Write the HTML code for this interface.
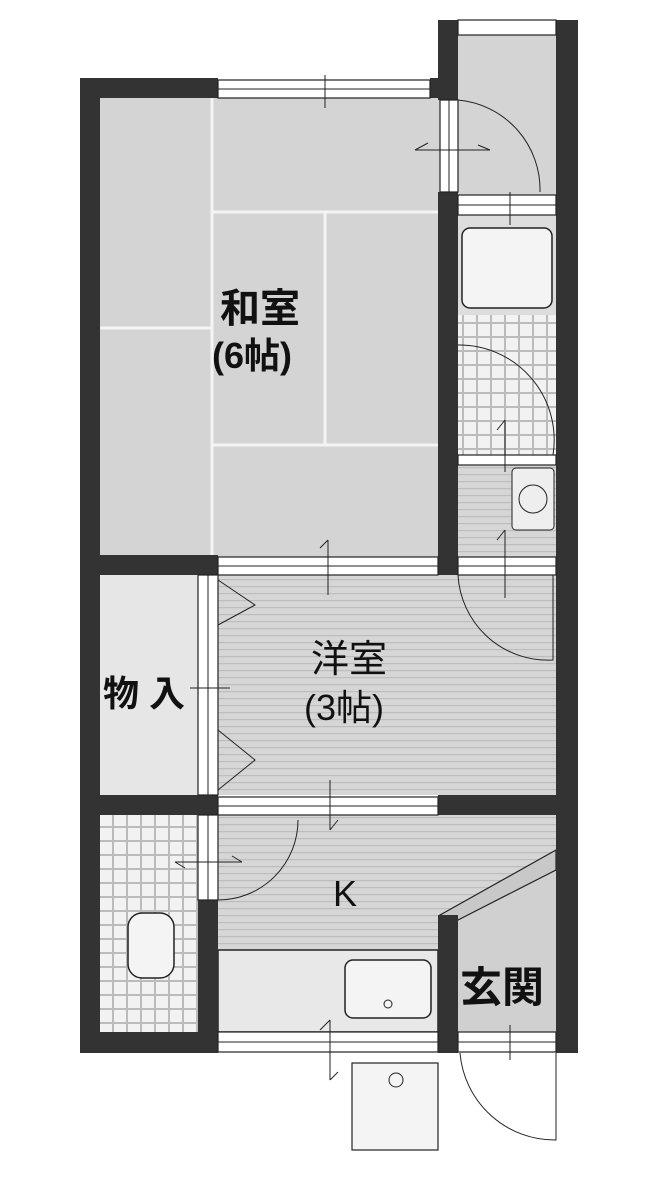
<!DOCTYPE html>
<html><head><meta charset="utf-8"><style>
html,body{margin:0;padding:0;background:#fff;width:650px;height:1200px;overflow:hidden}
svg{display:block}
text{font-family:"Liberation Sans","Noto Sans CJK JP",sans-serif;fill:#111}
</style></head><body>
<svg width="650" height="1200" viewBox="0 0 650 1200" xmlns="http://www.w3.org/2000/svg">
<defs>
<pattern id="st" width="8" height="7" patternUnits="userSpaceOnUse">
<rect width="8" height="7" fill="#d6d6d6"/><rect y="5" width="8" height="1.2" fill="#bdbdbd"/></pattern>
<pattern id="tile" width="14" height="14" patternUnits="userSpaceOnUse">
<rect width="14" height="14" fill="#f2f2f2"/><rect x="0" y="0" width="14" height="2" fill="#bbb"/><rect x="0" y="0" width="2" height="14" fill="#bbb"/></pattern>
</defs>
<rect x="100" y="98" width="340" height="460" fill="#d4d4d4"/>
<rect x="458" y="35" width="98" height="160" fill="#d4d4d4"/>
<rect x="458" y="215" width="98" height="100" fill="#ddd"/>
<rect x="458" y="315" width="98" height="140" fill="url(#tile)"/>
<rect x="458" y="465" width="98" height="92" fill="url(#st)"/>
<rect x="218" y="575" width="338" height="220" fill="url(#st)"/>
<rect x="100" y="575" width="98" height="220" fill="#e6e6e6"/>
<rect x="218" y="815" width="338" height="140" fill="url(#st)"/>
<rect x="100" y="815" width="98" height="217" fill="url(#tile)"/>
<rect x="218" y="950" width="220" height="82" fill="#e8e8e8" stroke="#222" stroke-width="1.5"/>
<polygon points="458,920 556,870 556,1032 458,1032" fill="#d0d0d0"/>
<polygon points="440,915 556,850 556,870 458,920" fill="#c8c8c8" stroke="#222" stroke-width="1.2"/>
<g stroke="#f4f4f4" stroke-width="3" fill="none">
<line x1="212" y1="98" x2="212" y2="555"/><line x1="100" y1="328" x2="212" y2="328"/>
<line x1="212" y1="212" x2="438" y2="212"/><line x1="212" y1="445" x2="438" y2="445"/>
<line x1="325" y1="212" x2="325" y2="445"/>
</g>
<g fill="#333">
<rect x="80" y="78" width="20" height="974"/>
<rect x="80" y="78" width="138" height="20"/>
<rect x="430" y="78" width="28" height="20"/>
<rect x="438" y="20" width="20" height="80"/>
<rect x="438" y="192" width="20" height="383"/>
<rect x="556" y="20" width="22" height="1033"/>
<rect x="80" y="555" width="138" height="20"/>
<rect x="438" y="555" width="20" height="20"/>
<rect x="80" y="795" width="138" height="20"/>
<rect x="438" y="795" width="118" height="20"/>
<rect x="198" y="900" width="20" height="152"/>
<rect x="438" y="915" width="20" height="138"/>
<rect x="80" y="1032" width="138" height="21"/>
</g>
<g fill="#fff" stroke="#222" stroke-width="1.2">
<rect x="218" y="80" width="212" height="18"/>
<rect x="458" y="20" width="98" height="15"/>
<rect x="440" y="100" width="18" height="92"/>
<rect x="458" y="195" width="98" height="20"/>
<rect x="458" y="455" width="98" height="10"/>
<rect x="218" y="557" width="220" height="18"/>
<rect x="458" y="557" width="98" height="18"/>
<rect x="198" y="575" width="20" height="220"/>
<rect x="218" y="797" width="220" height="18"/>
<rect x="198" y="815" width="20" height="85"/>
<rect x="218" y="1032" width="220" height="20"/>
<rect x="458" y="1032" width="98" height="20"/>
<rect x="352" y="1063" width="86" height="87" fill="#f4f4f4"/>
</g>
<g stroke="#222" stroke-width="1" fill="none">
<line x1="218" y1="89" x2="430" y2="89"/><line x1="218" y1="566" x2="438" y2="566"/>
<line x1="218" y1="806" x2="438" y2="806"/><line x1="218" y1="1042" x2="438" y2="1042"/>
<line x1="458" y1="1042" x2="556" y2="1042"/><line x1="449" y1="100" x2="449" y2="192"/>
<line x1="208" y1="575" x2="208" y2="795"/><line x1="208" y1="815" x2="208" y2="900"/>
<line x1="458" y1="205" x2="556" y2="205"/><line x1="458" y1="566" x2="556" y2="566"/>
<rect x="462" y="228" width="90" height="80" rx="8" fill="#f4f4f4" stroke-width="1.5"/>
<rect x="512" y="468" width="42" height="62" rx="4" fill="#eee"/>
<circle cx="533" cy="499" r="14"/>
<rect x="128" y="913" width="46" height="65" rx="14" fill="#f4f4f4" stroke-width="1.5"/>
<rect x="345" y="960" width="86" height="58" rx="8" fill="#f4f4f4" stroke-width="1.5"/>
<circle cx="388" cy="1004" r="4"/>
<circle cx="396" cy="1080" r="7"/>
<path d="M458,100 A90,90 0 0 1 540,192"/>
<path d="M458,345 A95,95 0 0 1 553,455"/>
<path d="M458,575 A90,90 0 0 0 553,660 L553,575"/>
<path d="M218,900 A80,80 0 0 0 298,820"/>
<path d="M460,1053 A95,95 0 0 0 556,1140 L556,1053"/>
<path d="M218,580 L255,605 L218,625"/><path d="M218,730 L255,760 L218,790"/>
<path d="M325,75 V108"/><path d="M510,192 V225"/><path d="M415,150 H490 M415,150 L428,143 M478,145 L490,150"/>
<path d="M328,540 V595 M328,540 L320,548"/><path d="M505,530 V598 M505,530 L497,540"/>
<path d="M505,420 V472 M505,420 L497,430"/>
<path d="M330,780 V830 M330,830 L338,820"/><path d="M330,1020 V1080 M330,1020 L320,1030 M330,1080 L338,1072"/>
<path d="M175,862 H242 M175,862 L185,868 M232,856 L242,862"/>
<path d="M510,1025 V1060"/><path d="M190,688 H230"/>
</g>
<text x="220" y="322" font-size="40" font-weight="bold">和室</text>
<text x="212" y="368" font-size="36" font-weight="bold">(6帖)</text>
<text x="311" y="672" font-size="38">洋室</text>
<text x="304" y="720" font-size="36">(3帖)</text>
<text x="103" y="706" font-size="36" font-weight="bold">物 入</text>
<text x="333" y="906" font-size="36">K</text>
<text x="460" y="1002" font-size="42" font-weight="bold">玄関</text>
</svg>
</body></html>
